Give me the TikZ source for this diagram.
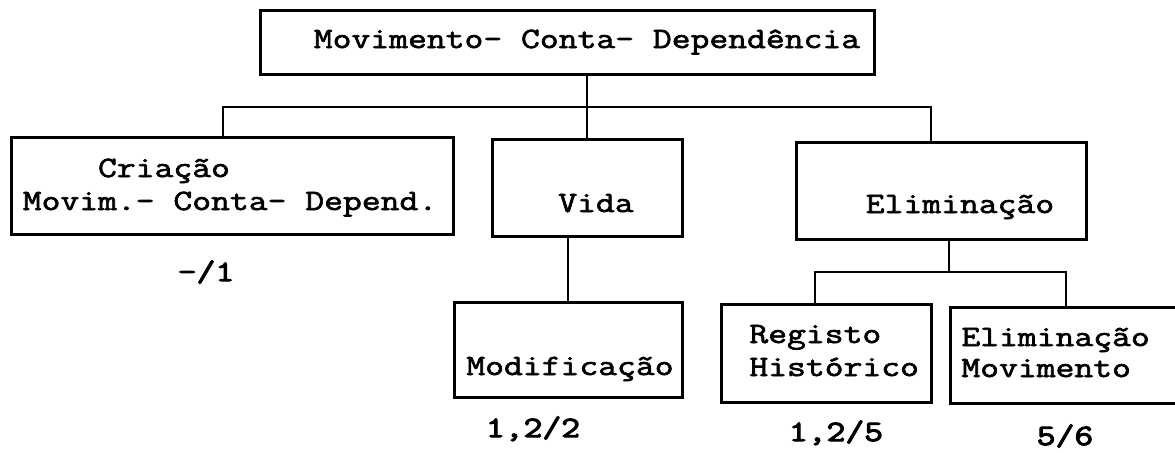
\documentclass[tikz,border=0pt]{standalone}
\usepackage{fontspec}
\newfontfamily\cour{Latin Modern Mono}[FakeStretch=1.24,FakeBold=2.2]
\newfontfamily\courb{Latin Modern Mono}[FakeStretch=1.24,FakeBold=3.6]
\begin{document}
\begin{tikzpicture}[x=0.5pt,y=-0.5pt,
  box/.style={draw,line width=1.5pt,inner sep=0pt,outer sep=0pt,rectangle},
  lbl/.style={anchor=base,inner sep=0pt,font=\cour\fontsize{14.75pt}{16pt}\selectfont},
  lblw/.style={lbl,anchor=base west},
  num/.style={anchor=base,inner sep=0pt,font=\courb\fontsize{14.75pt}{16pt}\selectfont},
  conn/.style={line width=1.4pt}]
\useasboundingbox (0,0) rectangle (1175,452);

% boxes
\node[box,minimum width=307pt,minimum height=32pt] (top) at (567,42) {};
\node[box,minimum width=221pt,minimum height=48.5pt] (crea) at (232,185.5) {};
\node[box,minimum width=95pt,minimum height=48.5pt] (vida) at (587,187.5) {};
\node[box,minimum width=145pt,minimum height=48.5pt] (elim) at (941,190.5) {};
\node[box,minimum width=114pt,minimum height=47.5pt] (modif) at (568,349.5) {};
\node[box,minimum width=105pt,minimum height=49pt] (reg) at (826,353) {};
\node[box,minimum width=115pt,minimum height=48pt] (elmov) at (1065,355) {};

% junction coordinates
\coordinate (hL) at (223,107);
\coordinate (hM) at (587,107);
\coordinate (hR) at (931,107);
\coordinate (e1) at (815,272);
\coordinate (eM) at (949,272);
\coordinate (e2) at (1066,272);

% connectors
\draw[conn] (top.south -| hM) -- (vida.north -| hM);
\draw[conn] (crea.north -| hL) |- (hR) -- (elim.north -| hR);
\draw[conn] (vida.south -| modif.north) -- (modif.north);
\draw[conn] (elim.south -| eM) -- (eM);
\draw[conn] (reg.north -| e1) |- (e2) -- (elmov.north -| e2);

% texts
\node[lbl] (ttop) at (587,48) {Movimento- Conta- Dependência};
\node[lbl] (tcr1) at (164,177) {Criação};
\node[lbl] (tcr2) at (230,210) {Movim.- Conta- Depend.};
\node[lbl] (tvida) at (596,212) {Vida};
\node[lbl] (telim) at (960,213) {Eliminação};
\node[lbl] (tmod) at (570,375) {Modificação};
\node[lblw] (treg1) at (749,343) {Registo};
\node[lblw] (treg2) at (749,376) {Histórico};
\node[lblw] (tem1) at (961,346) {Eliminação};
\node[lblw] (tem2) at (961,377) {Movimento};

% numbers
\node[num] (n1) at (206,281) {-/1};
\node[num] (n2) at (533,437) {1,2/2};
\node[num] (n3) at (836,441) {1,2/5};
\node[num] (n4) at (1065,445) {5/6};
\end{tikzpicture}
\end{document}
